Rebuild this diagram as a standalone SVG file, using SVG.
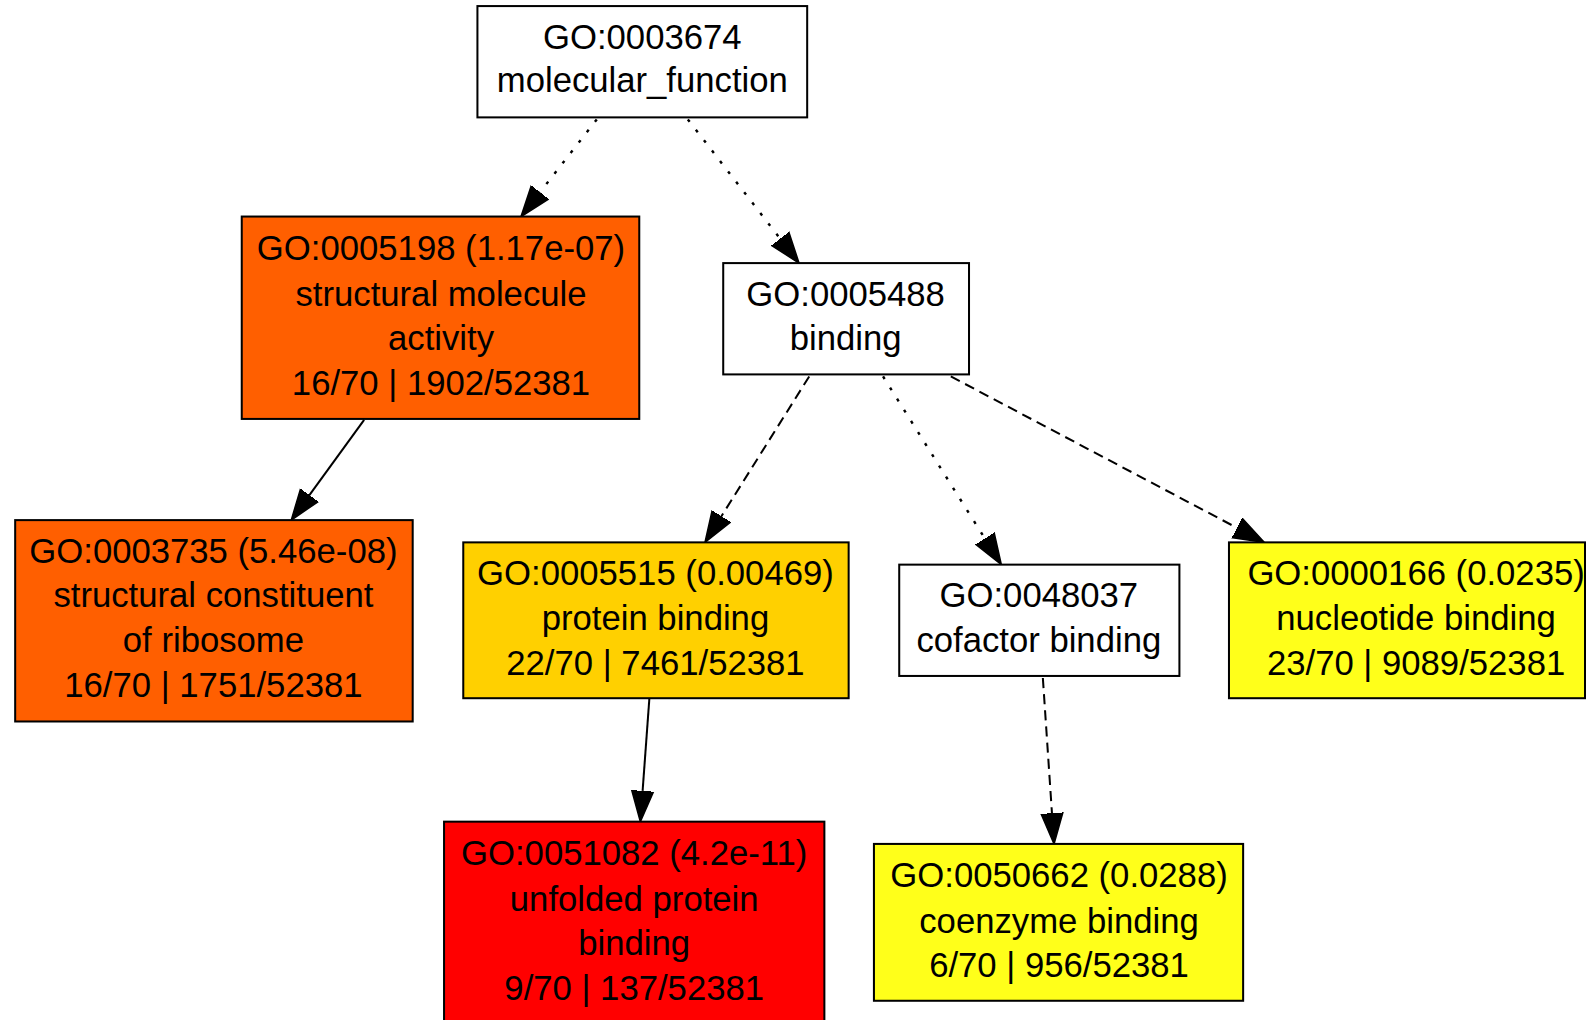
<svg xmlns="http://www.w3.org/2000/svg" width="1586" height="1020" viewBox="0 0 1586 1020">
<style>
.n{stroke:#000;stroke-width:2}
.t{font-family:"Liberation Sans",Arial,sans-serif;font-size:34.3px;text-anchor:middle;fill:#000}
.e{fill:none;stroke:#000;stroke-width:2}
.dot{stroke-dasharray:3 10;stroke-width:2.4}
.dash{stroke-dasharray:10 6}
</style>
<defs>
<marker id="ah" markerUnits="userSpaceOnUse" markerWidth="32" markerHeight="24" viewBox="0 0 32 24" refX="0" refY="12" orient="auto">
<path d="M0,1.2 L30.5,12 L0,22.8 z" fill="#000" stroke="#000" stroke-width="1.5"/>
</marker>
</defs>
<rect width="1586" height="1020" fill="#fff"/>
<g transform="scale(1.0115 1.0119)">
<g id="edges">
<path class="e dot" d="M590,118 L533.8,190" marker-end="url(#ah)"/>
<path class="e dot" d="M680,118 L771.3,235.9" marker-end="url(#ah)"/>
<path class="e" d="M360,415 L305.9,489.3" marker-end="url(#ah)"/>
<path class="e dash" d="M800,372 L713.2,510.2" marker-end="url(#ah)"/>
<path class="e dot" d="M873,372 L973.7,532.2" marker-end="url(#ah)"/>
<path class="e dash" d="M940,372 L1223,521.7" marker-end="url(#ah)"/>
<path class="e" d="M642,690 L635.3,781.6" marker-end="url(#ah)"/>
<path class="e dash" d="M1031,670 L1040,803.6" marker-end="url(#ah)"/>
</g>
<g id="GO0003674">
<rect class="n" x="472" y="6" width="326" height="110" fill="#fff"/>
<text class="t" x="635" y="48">GO:0003674</text>
<text class="t" x="635" y="91">molecular_function</text>
</g>
<g id="GO0005198">
<rect class="n" x="239" y="214" width="393" height="200" fill="#ff5f00"/>
<text class="t" x="436" y="257">GO:0005198 (1.17e-07)</text>
<text class="t" x="436" y="302">structural molecule</text>
<text class="t" x="436" y="346">activity</text>
<text class="t" x="436" y="390">16/70 | 1902/52381</text>
</g>
<g id="GO0005488">
<rect class="n" x="715" y="260" width="243" height="110" fill="#fff"/>
<text class="t" x="836" y="302">GO:0005488</text>
<text class="t" x="836" y="346">binding</text>
</g>
<g id="GO0003735">
<rect class="n" x="15" y="514" width="393" height="199" fill="#ff5f00"/>
<text class="t" x="211" y="556">GO:0003735 (5.46e-08)</text>
<text class="t" x="211" y="600">structural constituent</text>
<text class="t" x="211" y="644">of ribosome</text>
<text class="t" x="211" y="689">16/70 | 1751/52381</text>
</g>
<g id="GO0005515">
<rect class="n" x="458" y="536" width="381" height="154" fill="#ffd000"/>
<text class="t" x="648" y="578">GO:0005515 (0.00469)</text>
<text class="t" x="648" y="623">protein binding</text>
<text class="t" x="648" y="667">22/70 | 7461/52381</text>
</g>
<g id="GO0048037">
<rect class="n" x="889" y="558" width="277" height="110" fill="#fff"/>
<text class="t" x="1027" y="600">GO:0048037</text>
<text class="t" x="1027" y="644">cofactor binding</text>
</g>
<g id="GO0000166">
<rect class="n" x="1215" y="536" width="352" height="154" fill="#ffff1a"/>
<text class="t" x="1400" y="578">GO:0000166 (0.0235)</text>
<text class="t" x="1400" y="623">nucleotide binding</text>
<text class="t" x="1400" y="667">23/70 | 9089/52381</text>
</g>
<g id="GO0051082">
<rect class="n" x="439" y="812" width="376" height="220" fill="#ff0000"/>
<text class="t" x="627" y="855">GO:0051082 (4.2e-11)</text>
<text class="t" x="627" y="900">unfolded protein</text>
<text class="t" x="627" y="944">binding</text>
<text class="t" x="627" y="988">9/70 | 137/52381</text>
</g>
<g id="GO0050662">
<rect class="n" x="864" y="834" width="365" height="155" fill="#ffff1a"/>
<text class="t" x="1047" y="877">GO:0050662 (0.0288)</text>
<text class="t" x="1047" y="922">coenzyme binding</text>
<text class="t" x="1047" y="966">6/70 | 956/52381</text>
</g>
</g>
</svg>
